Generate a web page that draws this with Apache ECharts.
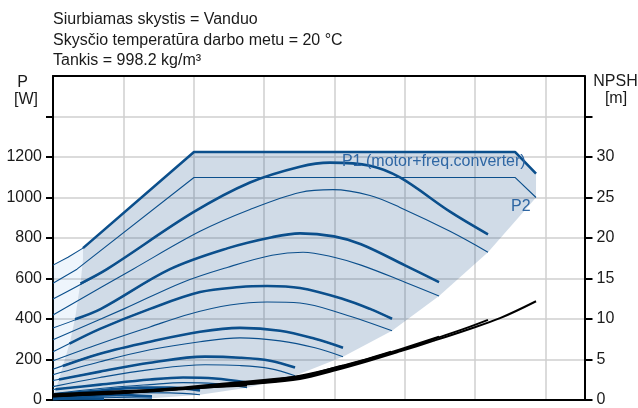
<!DOCTYPE html>
<html>
<head>
<meta charset="utf-8">
<script src="https://cdn.jsdelivr.net/npm/echarts@6/dist/echarts.min.js"></script>
<style>
  html, body { margin: 0; padding: 0; background: #fff; }
  #chart { width: 638px; height: 408px; }
</style>
</head>
<body>
<div id="chart"></div>
<script>
// Pump power curves (P1 thick, P2 thin) at several speeds, plus NPSH curves.
// x: flow (grid units), left y: power [W], right y: NPSH [m]

const powerLabels = [0, 200, 400, 600, 800, 1000, 1200];
const powerTickMarks = [0, 200, 400, 600, 800, 1000, 1200, 1400];
const npshLabels = [0, 5, 10, 15, 20, 25, 30];
const npshTickMarks = [0, 5, 10, 15, 20, 25, 30, 35];

const infoLines = [
  'Siurbiamas skystis = Vanduo',
  'Skysčio temperatūra darbo metu = 20 °C',
  'Tankis = 998.2 kg/m³'
];

// P1 limit (motor + frequency converter) and P2 limit
const p1Limit = [[0, 666], [0.213, 705], [0.426, 750], [2.004, 1225], [6.567, 1225], [6.866, 1118]];
const p2Limit = [[0, 577], [0.341, 646], [2.004, 1099], [6.567, 1099], [6.866, 1000]];

// P1 curves, highest speed first
const p1A = [[0, 499], [0.768, 646], [1.990, 926], [2.800, 1074], [3.511, 1152], [3.937, 1172], [4.506, 1157], [4.932, 1099], [5.643, 930], [6.183, 818]];
const p1B = [[0, 356], [0.682, 450], [1.663, 646], [2.487, 750], [3.113, 804], [3.511, 823], [3.994, 808], [4.378, 769], [5.003, 665], [5.487, 582]];
const p1C = [[0, 238], [0.668, 351], [1.379, 450], [2.090, 533], [2.658, 558], [3.042, 563], [3.511, 553], [4.122, 499], [4.506, 450], [4.819, 401]];
const p1D = [[0, 152], [0.668, 229], [1.379, 288], [2.090, 337], [2.658, 356], [3.227, 342], [3.724, 302], [4.122, 258]];
const p1E = [[0, 96], [0.668, 140], [1.379, 184], [2.161, 214], [2.658, 209], [3.085, 194], [3.440, 160]];
const p1F = [[0, 52], [0.668, 76], [1.379, 101], [1.848, 111], [2.303, 106], [2.758, 86]];
const p1G = [[0, 27], [0.668, 47], [1.237, 61], [1.663, 61], [2.090, 47]];
const p1H = [[0, 12], [0.5, 20], [0.9, 24], [1.407, 18]];
const p1I = [[0, 5], [0.4, 9], [0.725, 7]];

// where each P1 curve enters the operating range (min-flow edge)
const p1RangeStart = [[0.39, 575], [0.313, 399], [0.235, 278], [0.14, 168], [0.085, 101], [0.035, 53], [0.01, 27], [0, 12], [0, 5]];

// P2 curves, highest speed first
const p2A = [[0, 420], [1.137, 646], [2.090, 833], [2.800, 941], [3.511, 1025], [3.980, 1039], [4.506, 1010], [4.932, 951], [5.643, 833], [6.183, 730]];
const p2B = [[0, 297], [1.009, 450], [1.848, 582], [2.487, 656], [3.113, 715], [3.554, 730], [3.994, 705], [4.378, 666], [5.003, 582], [5.487, 514]];
const p2C = [[0, 194], [0.668, 278], [1.379, 361], [1.947, 425], [2.516, 469], [3.042, 484], [3.511, 479], [4.122, 425], [4.819, 342]];
const p2D = [[0, 125], [0.668, 189], [1.379, 248], [2.090, 288], [2.658, 307], [3.227, 292], [3.724, 258], [4.122, 214]];
const p2E = [[0, 66], [0.668, 111], [1.379, 150], [2.161, 174], [2.658, 170], [3.085, 155], [3.440, 120]];
const p2F = [[0, 32], [0.668, 57], [1.379, 76], [1.848, 86], [2.303, 81], [2.758, 61]];
const p2G = [[0, 15], [0.668, 28], [1.237, 36], [1.663, 35], [2.090, 26]];
const p2H = [[0, 6], [0.5, 10], [0.9, 12], [1.407, 9]];
const p2I = [[0, 2], [0.4, 4], [0.725, 3]];

// NPSH curves [m], longest first
const npshA = [[0, 0.43], [1.379, 1.04], [2.900, 2.03], [3.511, 2.6], [3.985, 3.6], [4.459, 4.75], [4.932, 6.0], [5.406, 7.3], [5.880, 8.65], [6.354, 10.1], [6.866, 12.19]];
const npshB = [[0, 0.45], [1.379, 1.1], [2.900, 2.1], [3.511, 2.7], [3.985, 3.75], [4.459, 4.9], [4.932, 6.1], [5.406, 7.5], [5.880, 8.9], [6.183, 9.89]];
const npshC = [[0, 0.5], [1.379, 1.1], [2.900, 2.15], [3.511, 2.8], [3.985, 3.85], [4.459, 5.0], [4.932, 6.25], [5.487, 7.8]];
const npshD = [[0, 0.55], [1.379, 1.12], [2.900, 2.2], [3.511, 2.9], [3.985, 3.95], [4.459, 5.05], [4.805, 5.96]];
const npshE = [[0, 0.6], [1.379, 1.15], [2.900, 2.25], [3.511, 3.0], [4.122, 4.24]];
const npshF = [[0, 0.65], [1.379, 1.2], [2.400, 2.0], [3.440, 2.83]];
const npshG = [[0, 0.7], [1.379, 1.25], [2.758, 1.8]];

// Operating range outlines
const rangeLower = [[6.866, 1118], [6.866, 1000], [6.183, 730], [5.487, 514], [4.819, 342], [4.122, 214], [3.440, 120], [2.758, 61], [2.090, 26], [1.407, 9], [0.725, 3], [0.1, 0]];
const rangeLeft = [[0.426, 750], [0.426, 695], [0.398, 597], [0.355, 499], [0.313, 401], [0.242, 288], [0.171, 204], [0.1, 120], [0.028, 42], [0, 0]];

const FONT = "'Liberation Sans', Arial, Helvetica, sans-serif";
const BLUE = '#0b4f8c';
const THICK = 2.6;
const THIN = 1.1;

const chart = echarts.init(document.getElementById('chart'), null, { renderer: 'canvas' });

function curve(data, width, color, yAxisIndex, smooth) {
  return {
    type: 'line', data: data, yAxisIndex: yAxisIndex || 0, xAxisIndex: 0,
    smooth: smooth === undefined ? 0.35 : smooth, showSymbol: false, symbol: 'none', silent: true,
    lineStyle: { width: width, color: color, cap: 'butt', join: 'round' }, z: 3
  };
}

function area(points, fill, z) {
  return {
    type: 'custom', coordinateSystem: 'cartesian2d', xAxisIndex: 0, yAxisIndex: 0,
    silent: true, z: z, data: [[0, 0]], clip: true,
    renderItem: function (params, api) {
      return { type: 'polygon', shape: { points: points.map(function (p) { return api.coord(p); }) }, style: { fill: fill } };
    }
  };
}

// dark region: P1 limit from the min-flow corner, down the max-flow edge, back up the min-flow edge
const upperFromCorner = p1Limit.slice(2);
const darkPoly = upperFromCorner.concat(rangeLower.slice(1)).concat(rangeLeft.slice().reverse());
const lightPoly = p1Limit.slice(0, 3).concat(rangeLeft.slice(1));

const p1Curves = [p1A, p1B, p1C, p1D, p1E, p1F, p1G, p1H, p1I];
const p2Curves = [p2A, p2B, p2C, p2D, p2E, p2F, p2G, p2H, p2I];
const npshCurves = [npshA, npshB, npshC, npshD, npshE, npshF, npshG];

const series = [
  area(lightPoly, 'rgba(85,155,225,0.10)', 1),
  area(darkPoly, 'rgba(31,86,143,0.21)', 1),
  curve(p2Limit, THIN, BLUE, 0, false),
  curve(p1Limit.slice(0, 3), THIN, BLUE, 0, false),
  curve(p1Limit.slice(2), THICK, BLUE, 0, false)
];
p2Curves.forEach(function (d) { series.push(curve(d, THIN, BLUE)); });
p1Curves.forEach(function (d, i) {
  // thin outside the operating range, thick inside it
  series.push(curve(d, THIN, BLUE));
  const start = p1RangeStart[i];
  const inside = [start].concat(d.filter(function (p) { return p[0] > start[0]; }));
  series.push(curve(inside, THICK, BLUE));
});
npshCurves.forEach(function (d) { series.push(curve(d, 2, '#000', 1)); });

const graphics = infoLines.map(function (t, i) {
  return { type: 'text', x: 53, y: [19.5, 40.2, 60.2][i], style: { text: t, font: '16px ' + FONT, fill: '#1a1a1a', align: 'left', verticalAlign: 'middle' } };
});
graphics.push(
  { type: 'text', x: 22.5, y: 82.5, style: { text: 'P', font: '16px ' + FONT, fill: '#1a1a1a', align: 'center', verticalAlign: 'middle' } },
  { type: 'text', x: 26, y: 99.5, style: { text: '[W]', font: '16px ' + FONT, fill: '#1a1a1a', align: 'center', verticalAlign: 'middle' } },
  { type: 'text', x: 615.5, y: 81.5, style: { text: 'NPSH', font: '16px ' + FONT, fill: '#1a1a1a', align: 'center', verticalAlign: 'middle' } },
  { type: 'text', x: 616, y: 98.5, style: { text: '[m]', font: '16px ' + FONT, fill: '#1a1a1a', align: 'center', verticalAlign: 'middle' } },
  { type: 'text', x: 342, y: 161.5, z: 10, style: { text: 'P1 (motor+freq.converter)', font: '16px ' + FONT, fill: '#2e66a3', align: 'left', verticalAlign: 'middle' } },
  { type: 'text', x: 511, y: 206.2, z: 10, style: { text: 'P2', font: '16px ' + FONT, fill: '#2e66a3', align: 'left', verticalAlign: 'middle' } }
);

chart.setOption({
  animation: false,
  backgroundColor: '#fff',
  grid: { left: 53, right: 53.5, top: 76, bottom: 6.5, containLabel: false },
  xAxis: [
    {
      type: 'value', min: 0, max: 7.555, interval: 1, position: 'bottom',
      axisLine: { show: true, onZero: false, lineStyle: { color: '#000', width: 2 } },
      axisTick: { show: false }, axisLabel: { show: false },
      splitLine: { show: true, lineStyle: { color: '#cfcfcf', width: 1.5 } }
    },
    {
      type: 'value', min: 0, max: 7.555, interval: 1, position: 'top',
      axisLine: { show: true, onZero: false, lineStyle: { color: '#000', width: 2 } },
      axisTick: { show: false }, axisLabel: { show: false }, splitLine: { show: false }
    }
  ],
  yAxis: [
    {
      type: 'value', min: 0, max: 1600, interval: 200, position: 'left',
      axisLine: { show: true, onZero: false, lineStyle: { color: '#000', width: 2 } },
      axisTick: { show: true, length: 7, customValues: powerTickMarks, lineStyle: { color: '#000', width: 2 } },
      axisLabel: { show: true, customValues: powerLabels, margin: 11, color: '#1a1a1a', fontSize: 16, fontFamily: FONT,
        formatter: function (v) { return powerLabels.indexOf(v) >= 0 ? String(v) : ''; } },
      splitLine: { show: true, lineStyle: { color: '#cfcfcf', width: 1.5 } }
    },
    {
      type: 'value', min: 0, max: 40, interval: 5, position: 'right',
      axisLine: { show: true, onZero: false, lineStyle: { color: '#000', width: 2 } },
      axisTick: { show: true, length: 8, customValues: npshTickMarks, lineStyle: { color: '#000', width: 2 } },
      axisLabel: { show: true, customValues: npshLabels, margin: 12, color: '#1a1a1a', fontSize: 16, fontFamily: FONT,
        formatter: function (v) { return npshLabels.indexOf(v) >= 0 ? String(v) : ''; } },
      splitLine: { show: false }
    }
  ],
  series: series,
  graphic: graphics
});
</script>
</body>
</html>
